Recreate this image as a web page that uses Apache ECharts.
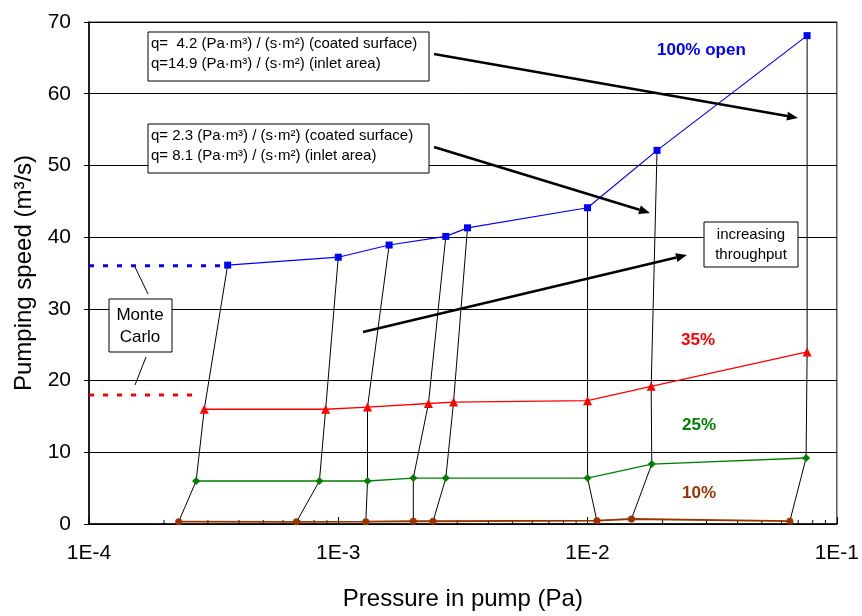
<!DOCTYPE html>
<html>
<head>
<meta charset="utf-8">
<script src="https://cdn.jsdelivr.net/npm/echarts@6/dist/echarts.min.js"></script>
<style>
  html, body { margin: 0; padding: 0; background: #fff; }
  #main { width: 862px; height: 616px; }
</style>
</head>
<body>
<div id="main"></div>
<script>
// pressure (Pa) / pumping speed (m3/s) per opening
var pBlue = [3.6e-4, 1.0e-3, 1.6e-3, 2.7e-3, 3.3e-3, 1.0e-2, 1.9e-2, 7.6e-2];
var sBlue = [36.1, 37.2, 38.9, 40.1, 41.3, 44.1, 52.1, 68.1];
var pRed = [2.9e-4, 8.9e-4, 1.31e-3, 2.3e-3, 2.9e-3, 1.0e-2, 1.8e-2, 7.6e-2];
var sRed = [16.0, 16.0, 16.3, 16.8, 17.0, 17.2, 19.2, 24.0];
var pGreen = [2.69e-4, 8.4e-4, 1.31e-3, 2.0e-3, 2.7e-3, 1.0e-2, 1.81e-2, 7.53e-2];
var sGreen = [6.0, 6.0, 6.0, 6.4, 6.4, 6.4, 8.35, 9.2];
var pBrown = [2.29e-4, 6.8e-4, 1.29e-3, 2.0e-3, 2.4e-3, 1.09e-2, 1.5e-2, 6.48e-2];
var sBrown = [0.33, 0.3, 0.33, 0.38, 0.38, 0.46, 0.7, 0.4];

// Monte Carlo reference levels
var mcBlue = [[1e-4, 36], [3.5e-4, 36]];
var mcRed = [[1e-4, 18], [2.65e-4, 18]];

// log minor ticks
var minorTicks = [2e-4, 3e-4, 4e-4, 5e-4, 6e-4, 7e-4, 8e-4, 9e-4,
                  2e-3, 3e-3, 4e-3, 5e-3, 6e-3, 7e-3, 8e-3, 9e-3,
                  2e-2, 3e-2, 4e-2, 5e-2, 6e-2, 7e-2, 8e-2, 9e-2];

var FONT = 'Arial, "Liberation Sans", sans-serif';
var myChart = echarts.init(document.getElementById('main'));

function pairs(px, py) {
    return px.map(function (p, i) { return [p, py[i]]; });
}

// black lines join points with the same throughput
var links = [];
for (var i = 0; i < pBlue.length; i++) {
    links.push({
        type: 'line',
        data: [[pBrown[i], sBrown[i]], [pGreen[i], sGreen[i]], [pRed[i], sRed[i]], [pBlue[i], sBlue[i]]],
        symbol: 'none',
        lineStyle: { color: '#000', width: 1 },
        silent: true,
        z: 2
    });
}

function colored(data, color, symbol, size, w) {
    return {
        type: 'line',
        data: data,
        symbol: symbol,
        symbolSize: size,
        itemStyle: { color: color },
        lineStyle: { color: color, width: w || 1.2 },
        z: 3
    };
}

function arrow(x1, y1, x2, y2) {
    var a = Math.atan2(y2 - y1, x2 - x1);
    var L = 11, W = 4.5;
    var bx = x2 - L * Math.cos(a), by = y2 - L * Math.sin(a);
    return [
        { type: 'line', shape: { x1: x1, y1: y1, x2: bx, y2: by }, style: { stroke: '#000', lineWidth: 2.5 }, z: 10 },
        { type: 'polygon', shape: { points: [[x2, y2], [bx - W * Math.sin(a), by + W * Math.cos(a)], [bx + W * Math.sin(a), by - W * Math.cos(a)]] }, style: { fill: '#000' }, z: 10 }
    ];
}

function box(x, y, w, h) {
    return { type: 'rect', shape: { x: x, y: y, width: w, height: h }, style: { fill: '#fff', stroke: '#000', lineWidth: 1 }, z: 11 };
}
function txt(x, y, s, opt) {
    var st = Object.assign({ text: s, x: x, y: y, font: '15px ' + FONT, fill: '#000', textVerticalAlign: 'middle', textAlign: 'left' }, opt || {});
    return { type: 'text', style: st, z: 12 };
}

var graphics = [].concat(
    arrow(434, 54, 798, 118),
    arrow(434, 147, 650, 213),
    arrow(363, 332, 687, 255),
    [
        box(148, 32, 281, 49),
        txt(151, 44, 'q=  4.2 (Pa·m³) / (s·m²) (coated surface)'),
        txt(151, 64, 'q=14.9 (Pa·m³) / (s·m²) (inlet area)'),
        box(148, 124, 281, 49),
        txt(151, 136, 'q= 2.3 (Pa·m³) / (s·m²) (coated surface)'),
        txt(151, 156, 'q= 8.1 (Pa·m³) / (s·m²) (inlet area)'),
        box(704, 222, 94, 45),
        txt(751, 235, 'increasing', { textAlign: 'center', font: '15px ' + FONT }),
        txt(751, 255, 'throughput', { textAlign: 'center', font: '15px ' + FONT }),
        { type: 'line', shape: { x1: 135, y1: 267, x2: 148, y2: 294 }, style: { stroke: '#000', lineWidth: 1 }, z: 10 },
        { type: 'line', shape: { x1: 146, y1: 357, x2: 135, y2: 385 }, style: { stroke: '#000', lineWidth: 1 }, z: 10 },
        box(109, 299, 63, 53),
        txt(140, 315, 'Monte', { textAlign: 'center', font: '17px ' + FONT }),
        txt(140, 337, 'Carlo', { textAlign: 'center', font: '17px ' + FONT }),
        txt(657, 50, '100% open', { fill: '#0000ff', font: 'bold 17px ' + FONT }),
        txt(681, 340, '35%', { fill: '#ff0000', font: 'bold 17px ' + FONT }),
        txt(682, 425, '25%', { fill: '#008000', font: 'bold 17px ' + FONT }),
        txt(682, 493, '10%', { fill: '#993300', font: 'bold 17px ' + FONT })
    ]
);

var option = {
    animation: false,
    backgroundColor: '#fff',
    grid: {
        left: 89, right: 22, top: 22, bottom: 91,
        show: true, borderColor: '#333', borderWidth: 1.2
    },
    xAxis: {
        type: 'log',
        logBase: 10,
        min: 1e-4,
        max: 1e-1,
        name: 'Pressure in pump (Pa)',
        nameLocation: 'middle',
        nameGap: 63,
        nameTextStyle: { fontFamily: FONT, fontSize: 24, color: '#000' },
        axisLine: { lineStyle: { color: '#000', width: 1.5 } },
        axisTick: { inside: true, length: 7, lineStyle: { color: '#000' } },
        splitLine: { show: false },
        axisLabel: {
            margin: 19,
            fontFamily: FONT, fontSize: 21, color: '#000',
            formatter: function (v) { return '1E' + Math.round(Math.log10(v)); }
        }
    },
    yAxis: {
        type: 'value',
        min: 0,
        max: 70,
        interval: 10,
        name: 'Pumping speed (m³/s)',
        nameLocation: 'middle',
        nameGap: 50,
        nameTextStyle: { fontFamily: FONT, fontSize: 24, color: '#000' },
        axisLine: { show: true, lineStyle: { color: '#000', width: 1.5 } },
        axisTick: { show: true, length: 5, lineStyle: { color: '#000' } },
        splitLine: { lineStyle: { color: '#000', width: 1 } },
        axisLabel: { margin: 18, fontFamily: FONT, fontSize: 21, color: '#000' }
    },
    graphic: graphics,
    series: links.concat([
        {
            type: 'custom',
            data: minorTicks.map(function (v) { return [v, 0]; }),
            renderItem: function (params, api) {
                var pt = api.coord([api.value(0), 0]);
                return {
                    type: 'line',
                    shape: { x1: pt[0], y1: pt[1], x2: pt[0], y2: pt[1] - 4 },
                    style: { stroke: '#000', lineWidth: 1 }
                };
            },
            silent: true,
            z: 1
        },
        {
            type: 'line', data: mcBlue, symbol: 'none', silent: true,
            lineStyle: { color: '#0000ff', width: 3, type: [5, 9] }, z: 2
        },
        {
            type: 'line', data: mcRed, symbol: 'none', silent: true,
            lineStyle: { color: '#ff0000', width: 3, type: [5, 9] }, z: 2
        },
        colored(pairs(pBrown, sBrown), '#993300', 'circle', 7, 1.8),
        colored(pairs(pGreen, sGreen), '#008000', 'diamond', 8, 1.4),
        colored(pairs(pRed, sRed), '#ff0000', 'triangle', 9, 1.3),
        colored(pairs(pBlue, sBlue), '#0000ff', 'rect', 7, 1.2)
    ])
};

myChart.setOption(option);
</script>
</body>
</html>
